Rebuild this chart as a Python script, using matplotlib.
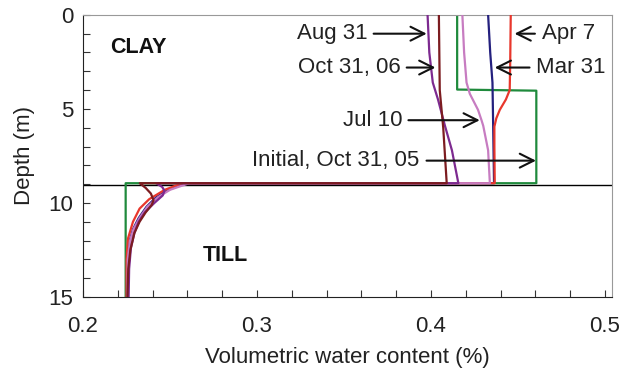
import numpy as np
import matplotlib.pyplot as plt
from matplotlib.ticker import MultipleLocator

plt.rcParams['font.family'] = ['Liberation Sans', 'DejaVu Sans']

# moisture profiles: depth (m) and volumetric water content
initial_depth = [0, 3.97, 4.03, 8.95, 8.95, 15]
initial_theta = [0.415, 0.415, 0.4605, 0.4605, 0.2245, 0.2245]

mar31_depth = [0, 2.0, 3.6, 5.9, 8.95, 8.95, 9.3, 9.7, 10.2, 10.8, 11.4, 12.0, 13.0, 15]
mar31_theta = [0.4328, 0.4340, 0.4353, 0.4357, 0.4362, 0.259, 0.249, 0.242, 0.2365, 0.232, 0.2287, 0.2268, 0.2256, 0.2254]

apr7_depth = [0, 2.5, 4.0, 4.5, 5.05, 5.5, 5.94, 7.0, 8.95, 8.95, 9.3, 9.8, 10.3, 11.0, 11.9, 13.0, 15]
apr7_theta = [0.4458, 0.4455, 0.4452, 0.4430, 0.4395, 0.4375, 0.4364, 0.4364, 0.4366, 0.257, 0.247, 0.238, 0.2325, 0.2287, 0.2258, 0.2250, 0.2250]

jul10_depth = [0, 2.0, 3.6, 4.2, 5.05, 5.6, 5.9, 7.2, 8.95, 8.95, 9.3, 9.7, 10.2, 10.8, 11.4, 12.0, 13.0, 15]
jul10_theta = [0.418, 0.419, 0.4204, 0.4223, 0.427, 0.429, 0.430, 0.4328, 0.4338, 0.261, 0.250, 0.243, 0.237, 0.2325, 0.229, 0.227, 0.2257, 0.2255]

aug31_depth = [0, 2.0, 3.6, 4.5, 5.9, 7.2, 8.95, 8.95, 9.15, 9.35, 9.6, 10.0, 10.5, 11.0, 11.6, 12.4, 13.5, 15]
aug31_theta = [0.398, 0.399, 0.401, 0.404, 0.408, 0.412, 0.4157, 0.242, 0.2455, 0.2468, 0.2458, 0.241, 0.2355, 0.232, 0.2295, 0.2275, 0.2265, 0.2262]

oct31_depth = [0, 4.0, 6.0, 8.95, 8.95, 9.2, 9.5, 9.85, 10.1, 10.5, 11.0, 11.6, 12.5, 13.5, 15]
oct31_theta = [0.4045, 0.405, 0.407, 0.409, 0.2326, 0.236, 0.239, 0.2405, 0.2395, 0.236, 0.2325, 0.2295, 0.2272, 0.2260, 0.2255]

profiles = [
    (initial_depth, initial_theta, '#1f8a3c'),
    (mar31_depth, mar31_theta, '#24207e'),
    (apr7_depth, apr7_theta, '#e8372c'),
    (jul10_depth, jul10_theta, '#c77cc1'),
    (aug31_depth, aug31_theta, '#7d2a90'),
    (oct31_depth, oct31_theta, '#7c1c20'),
]

# arrow labels: text, tail (theta, depth), tip theta, text side
labels = ['Aug 31', 'Oct 31, 06', 'Apr 7', 'Mar 31', 'Jul 10', 'Initial, Oct 31, 05']
label_depth = [1.0, 2.8, 1.0, 2.8, 5.6, 7.75]
tail_theta = [0.367, 0.386, 0.4597, 0.4566, 0.387, 0.3974]
tip_theta = [0.3975, 0.4025, 0.448, 0.4366, 0.428, 0.4603]
text_theta = [0.3635, 0.3825, 0.4635, 0.4605, 0.3835, 0.3935]
text_ha = ['right', 'right', 'left', 'left', 'right', 'right']

fig = plt.figure(figsize=(6.29, 3.72), dpi=100)
ax = fig.add_axes([0.132, 0.2016, 0.841, 0.7584])

ax.axhline(9.03, color='black', lw=1.0, zorder=1)
for i, (d, t, c) in enumerate(profiles):
    ax.plot(t, d, color=c, lw=1.6, zorder=2 + i)

for lab, yd, t0, t1, tx, ha in zip(labels, label_depth, tail_theta, tip_theta, text_theta, text_ha):
    ax.annotate('', xy=(t1, yd), xytext=(t0, yd),
                arrowprops=dict(arrowstyle='->,head_length=0.5,head_width=0.25',
                                color='#111111', lw=1.5, mutation_scale=20,
                                shrinkA=0, shrinkB=0), zorder=10)
    ax.text(tx, yd, lab, ha=ha, va='center', fontsize=16, color='#222222', zorder=10)

ax.text(0.2155, 1.75, 'CLAY', fontsize=15.5, fontweight='bold', va='center', color='#111111')
ax.text(0.2687, 12.8, 'TILL', fontsize=15.5, fontweight='bold', va='center', color='#111111')

ax.set_xlim(0.2, 0.504)
ax.set_ylim(15, 0)
ax.xaxis.set_major_locator(MultipleLocator(0.1))
ax.xaxis.set_minor_locator(MultipleLocator(0.02))
ax.yaxis.set_major_locator(MultipleLocator(5))
ax.yaxis.set_minor_locator(MultipleLocator(1))
ax.set_xticks([0.2, 0.3, 0.4, 0.5])
ax.set_xticklabels(['0.2', '0.3', '0.4', '0.5'])
ax.tick_params(which='both', direction='in', length=5, width=0.8, colors='#333333',
               labelsize=16, labelcolor='#222222')
ax.tick_params(axis='x', pad=14)
ax.tick_params(axis='y', pad=7)

for side in ['left', 'bottom']:
    ax.spines[side].set_color('#222222')
for side in ['top', 'right']:
    ax.spines[side].set_color('#999999')

ax.set_xlabel('Volumetric water content (%)', fontsize=16, color='#222222', labelpad=7)
ax.set_ylabel('Depth (m)', fontsize=16, color='#222222', labelpad=10)

fig.savefig('out.png', dpi=100)
